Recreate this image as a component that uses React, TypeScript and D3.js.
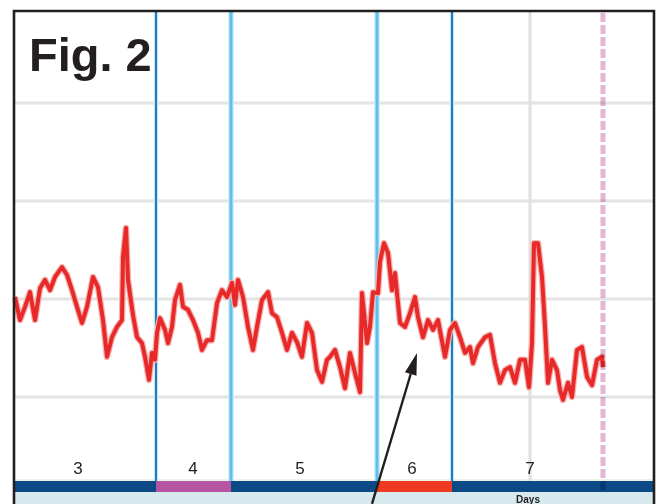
import React from "react";
import * as d3 from "d3";

// time (days) and measured level for the red trace
const tValues: number[] = [
  0.1, 0.6, 1.1, 1.6, 2.1, 2.6, 3.1, 3.6, 4.1, 4.8, 5.3, 5.8, 6.3, 6.8, 7.3, 7.9, 8.4, 8.9, 9.3, 9.8,
  10.3, 10.8, 10.9, 11.2, 11.4, 11.9, 12.3, 12.8, 13.1, 13.5, 13.8, 14.1, 14.3, 14.6, 15.1, 15.4, 15.8, 16.1, 16.6, 16.9,
  17.4, 17.9, 18.4, 18.8, 19.3, 19.8, 20.3, 20.8, 21.3, 21.8, 22.1, 22.4, 22.9, 23.4, 23.9, 24.3, 24.8, 25.4, 25.8, 26.3,
  26.8, 27.3, 27.8, 28.3, 28.8, 29.3, 29.8, 30.3, 30.8, 31.3,
  31.6, 32.1, 32.6, 33.1, 33.6, 34.1, 34.6, 34.8, 35.3, 35.6, 35.9, 36.4, 36.6, 37.0, 37.4, 37.8, 38.1, 38.6, 39.1, 39.6,
  40.1, 40.4, 40.9, 41.4, 41.9, 42.4, 43.1, 43.6, 44.1, 44.6, 45.1, 45.6, 45.9, 46.4, 47.1, 47.6, 48.1, 48.6, 49.1, 49.6,
  50.1, 50.6, 51.1, 51.5, 51.8, 52.0, 52.4, 52.8, 53.1, 53.4, 53.8, 54.3, 54.6, 54.9, 55.4, 55.8, 56.3, 56.8, 57.3, 57.8,
  58.3, 58.8, 58.9,
];
const levelValues: number[] = [
  40.4, 35.7, 38.4, 41.4, 35.7, 42.2, 43.9, 41.8, 44.5, 46.5, 44.9, 41.8, 38.4, 35.1, 38.4, 44.5, 42.4, 35.7, 28.2, 32.2,
  34.3, 35.7, 48.6, 54.5, 43.9, 36.7, 32.2, 31.0, 28.2, 23.5, 29.0, 27.6, 33.1, 36.1, 33.7, 31.0, 34.3, 39.8, 42.9, 38.4,
  37.8, 35.7, 33.1, 29.6, 31.6, 31.6, 39.2, 41.8, 40.4, 43.3, 38.8, 43.9, 40.4, 34.3, 29.6, 34.3, 39.8, 41.4, 37.1, 36.3,
  33.1, 29.6, 33.1, 31.2, 28.2, 35.1, 33.1, 25.5, 23.1, 27.6,
  28.2, 29.6, 26.1, 21.8, 29.0, 24.9, 21.0, 41.2, 31.0, 34.3, 41.4, 41.2, 47.6, 51.4, 49.4, 41.8, 45.3, 35.1, 34.3, 37.1,
  40.4, 36.3, 32.2, 35.7, 33.7, 35.7, 28.2, 33.7, 35.1, 32.2, 29.0, 30.2, 26.9, 30.2, 32.2, 32.7, 26.9, 22.9, 25.5, 26.1,
  22.9, 27.6, 27.6, 22.0, 31.0, 51.4, 51.4, 44.5, 34.3, 22.9, 27.6, 25.5, 21.4, 19.4, 22.9, 20.0, 29.6, 30.2, 24.1, 22.4,
  27.6, 28.2, 26.1,
];

const gridLevels: number[] = [20, 40, 60, 80];
const gridDays: number[] = [51.6];
const darkMarkers: number[] = [14.2, 43.8];
const lightMarkers: number[] = [21.7, 36.3];
const endMarker = 58.9;

const phaseLabels: string[] = ["3", "4", "5", "6", "7"];
const phaseStarts: number[] = [0, 14.2, 21.7, 36.3, 43.8];
const phaseEnds: number[] = [14.2, 21.7, 36.3, 43.8, 64];
const phaseLabelDays: number[] = [6.4, 17.9, 28.6, 39.8, 51.6];
const phaseColors: string[] = ["#0b4a86", "#b655a3", "#0b4a86", "#ee3a23", "#0b4a86"];

const arrowFrom: [number, number] = [35.8, -1.8];
const arrowTo: [number, number] = [40.3, 29.0];

export default function App() {
  const W = 660;
  const H = 504;
  const left = 14, right = 654, top = 11, barTop = 481, barBottom = 492;
  const x = d3.scaleLinear().domain([0, 64]).range([left, right]);
  const y = d3.scaleLinear().domain([0, 100]).range([495, 5]);

  const pts: [number, number][] = tValues.map((t, i) => [t, levelValues[i]]);
  const line = d3
    .line<[number, number]>()
    .x((d) => x(d[0]))
    .y((d) => y(d[1]));

  const ax1 = x(arrowFrom[0]), ay1 = y(arrowFrom[1]);
  const ax2 = x(arrowTo[0]), ay2 = y(arrowTo[1]);
  const ang = Math.atan2(ay2 - ay1, ax2 - ax1);
  const headLen = 22, headW = 6;
  const bx = ax2 - headLen * Math.cos(ang), by = ay2 - headLen * Math.sin(ang);
  const px = -Math.sin(ang) * headW, py = Math.cos(ang) * headW;

  return (
    <svg
      width={W}
      height={H}
      style={{ position: "absolute", left: 0, top: 0, background: "#fff" }}
      fontFamily="'Liberation Sans', Arial, Helvetica, sans-serif"
    >
      {/* bottom light band */}
      <rect x={left} y={barBottom} width={right - left} height={H - barBottom} fill="#d6eaed" />
      <rect x={left} y={barTop - 2} width={right - left} height={2} fill="#eef3e8" />
      {/* grid */}
      {gridLevels.map((g) => (
        <line key={"g" + g} x1={left} x2={right} y1={y(g)} y2={y(g)} stroke="#e4e4e4" strokeWidth={3} />
      ))}
      {gridDays.map((g) => (
        <line key={"gd" + g} x1={x(g)} x2={x(g)} y1={top} y2={barTop} stroke="#e0e0e0" strokeWidth={3} />
      ))}
      {/* vertical markers */}
      {lightMarkers.map((m) => (
        <g key={"lm" + m}>
          <line x1={x(m)} x2={x(m)} y1={top} y2={barTop} stroke="#d2ecf8" strokeWidth={6} />
          <line x1={x(m)} x2={x(m)} y1={top} y2={barTop} stroke="#5bc0eb" strokeWidth={3} />
        </g>
      ))}
      {darkMarkers.map((m) => (
        <g key={"dm" + m}>
          <line x1={x(m)} x2={x(m)} y1={top} y2={barTop} stroke="#e6f2f8" strokeWidth={5} />
          <line x1={x(m)} x2={x(m)} y1={top} y2={barTop} stroke="#1a7cc1" strokeWidth={2.2} />
        </g>
      ))}
      {/* red trace */}
      <path d={line(pts) || ""} fill="none" stroke="#f4b4b0" strokeWidth={6.5} strokeLinejoin="round" />
      <path d={line(pts) || ""} fill="none" stroke="#e8292a" strokeWidth={4} strokeLinejoin="round" />
      {/* phase bar */}
      {phaseLabels.map((p, i) => (
        <rect
          key={"pb" + p}
          x={x(phaseStarts[i])}
          y={barTop}
          width={Math.min(x(phaseEnds[i]), right) - x(phaseStarts[i])}
          height={barBottom - barTop}
          fill={phaseColors[i]}
        />
      ))}
      {phaseLabels.map((p, i) => (
        <text key={"pl" + p} x={x(phaseLabelDays[i])} y={474} textAnchor="middle" fontSize={17} fill="#231f20">
          {p}
        </text>
      ))}
      {/* end marker */}
      <line
        x1={x(endMarker)}
        x2={x(endMarker)}
        y1={top + 2}
        y2={barBottom}
        stroke="#e4b5d6"
        strokeWidth={5}
        strokeDasharray="9,3"
        style={{ mixBlendMode: "multiply" }}
      />
      {/* axis title (partly below the band in the original) */}
      <text x={528} y={503} textAnchor="middle" fontSize={10} fontWeight="bold" fill="#231f20">
        Days
      </text>
      {/* frame */}
      <path d={`M${left},${H} V${top} H${right} V${H}`} fill="none" stroke="#231f20" strokeWidth={2.6} />
      {/* title */}
      <text x={29} y={71} fontSize={47} fontWeight="bold" fill="#231f20">
        Fig. 2
      </text>
      {/* arrow */}
      <line x1={ax1} y1={ay1} x2={bx} y2={by} stroke="#231f20" strokeWidth={2.4} />
      <path d={`M${ax2},${ay2} L${bx + px},${by + py} L${bx - px},${by - py} Z`} fill="#231f20" />
    </svg>
  );
}
